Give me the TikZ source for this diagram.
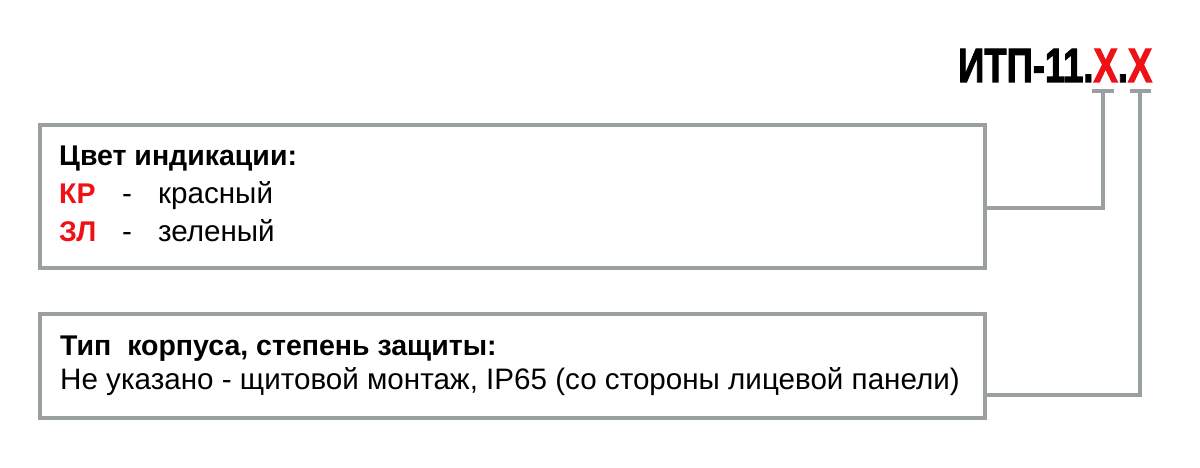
\documentclass[tikz,border=0pt]{standalone}
\usepackage{fontspec}
\setmainfont{Liberation Sans}
\newfontfamily\titlefont{Liberation Sans Bold}[FakeBold=2.5]
\definecolor{lgray}{RGB}{154,160,161}
\definecolor{lred}{RGB}{238,18,22}
\begin{document}
\begin{tikzpicture}[x=1pt,y=-1pt,
  box/.style={draw=lgray,line width=3.5pt,minimum width=945pt,inner sep=0pt},
  conn/.style={draw=lgray,line width=3.5pt},
  txt/.style={anchor=base west,inner sep=0pt,font=\fontsize{29.6}{34}\selectfont},
  btxt/.style={txt,font=\fontsize{28.5}{34}\selectfont\bfseries}]
\useasboundingbox (0,0) rectangle (1200,468);
% title
\node[anchor=base west,inner sep=0pt] (title) at (958,82)
  {\resizebox{194pt}{33pt}{\titlefont ИТП-11.\textcolor{lred}{X}.\textcolor{lred}{X}}};
% boxes
\node[box,minimum height=143pt] (box1) at (512.5,196.5) {};
\node[box,minimum height=104pt] (box2) at (512.5,366) {};
% caps
\coordinate (c1a) at (1092,91); \coordinate (c1b) at (1114,91);
\coordinate (c2a) at (1130,91); \coordinate (c2b) at (1151,91);
\coordinate (k1) at (1103,91); \coordinate (k2) at (1140,91);
\draw[conn] (c1a) -- (c1b);
\draw[conn] (c2a) -- (c2b);
\draw[conn,line join=miter] ([yshift=-11.5pt]box1.east) -| (k1);
\draw[conn,line join=miter] ([yshift=-29pt]box2.east) -| (k2);
% box1 text
\node[btxt] (t1) at (59,166) {Цвет индикации:};
\node[btxt,text=lred] (kr) at (59,204) {КР};
\node[txt] (kd) at (122,204) {-};
\node[txt] (kt) at (158,204) {красный};
\node[btxt,text=lred] (zl) at (59,241) {ЗЛ};
\node[txt] (zd) at (122,241) {-};
\node[txt] (zt) at (158,241) {зеленый};
% box2 text
\node[btxt] (t2) at (60,355) {Тип\hspace{16pt}корпуса, степень защиты:};
\node[txt] (t3) at (60,389) {Не указано - щитовой монтаж, IP65 (со стороны лицевой панели)};
\end{tikzpicture}
\end{document}
